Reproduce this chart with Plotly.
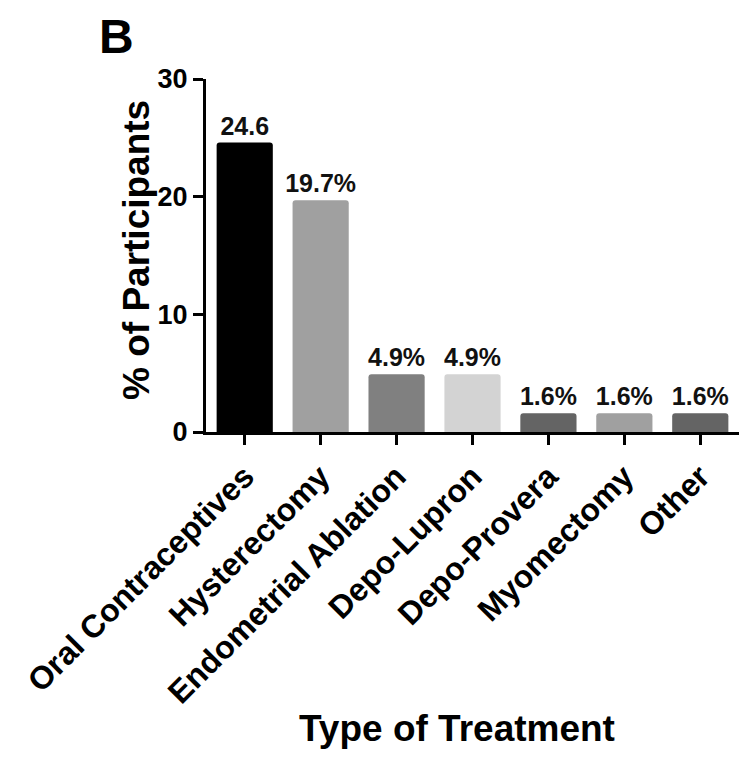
import plotly.graph_objects as go

# Treatment categories and share of participants (%)
treatments = ["Oral Contraceptives", "Hysterectomy", "Endometrial Ablation",
              "Depo-Lupron", "Depo-Provera", "Myomectomy", "Other"]
percent = [24.6, 19.7, 4.9, 4.9, 1.6, 1.6, 1.6]
label_suffix = ["", "%", "%", "%", "%", "%", "%"]
bar_colors = ["#000000", "#a0a0a0", "#808080", "#d3d3d3", "#646464", "#a0a0a0", "#646464"]
y_ticks = [0, 10, 20, 30]

FONT = "Liberation Sans, Arial, sans-serif"

W, H = 739, 759
left, right, top, bottom = 206, 0, 79, 327
plot_w = W - left - right
plot_h = H - top - bottom

fig = go.Figure(go.Bar(
    x=treatments,
    y=percent,
    marker=dict(color=bar_colors, line=dict(width=0), cornerradius=3),
    width=0.74,
    text=[f"{v}{s}" for v, s in zip(percent, label_suffix)],
    textposition="outside",
    constraintext="none",
    textfont=dict(family=FONT, size=25, color="#111111", weight="bold"),
    cliponaxis=False,
))

fig.update_layout(
    width=W, height=H,
    margin=dict(l=left, r=right, t=top, b=bottom, pad=0),
    plot_bgcolor="white", paper_bgcolor="white",
    showlegend=False,
    font=dict(family=FONT, color="black"),
)

fig.update_xaxes(
    range=[-0.51, 6.51],
    showline=True, linewidth=3, linecolor="black",
    ticks="outside", ticklen=10, tickwidth=3, tickcolor="black",
    tickangle=-45,
    tickfont=dict(family=FONT, size=32, color="black", weight="bold"),
    showgrid=False, zeroline=False,
)

fig.update_yaxes(
    range=[0, 30],
    tickvals=y_ticks,
    showline=True, linewidth=3, linecolor="black",
    ticks="outside", ticklen=10, tickwidth=3, tickcolor="black",
    tickfont=dict(family=FONT, size=27, color="black", weight="bold"),
    showgrid=False, zeroline=False,
)

# Axis titles and panel letter placed as annotations
fig.add_annotation(
    text="% of Participants", textangle=-90,
    xref="paper", yref="paper",
    x=(136 - left) / plot_w, y=(432 - 250) / plot_h,
    showarrow=False, xanchor="center", yanchor="middle",
    font=dict(family=FONT, size=37, color="black", weight="bold"),
)
fig.add_annotation(
    text="Type of Treatment",
    xref="paper", yref="paper",
    x=(457 - left) / plot_w, y=(432 - 728) / plot_h,
    showarrow=False, xanchor="center", yanchor="middle",
    font=dict(family=FONT, size=37, color="black", weight="bold"),
)
fig.add_annotation(
    text="B",
    xref="paper", yref="paper",
    x=(116 - left) / plot_w, y=(432 - 37) / plot_h,
    showarrow=False, xanchor="center", yanchor="middle",
    font=dict(family=FONT, size=48, color="black", weight="bold"),
)

fig.write_html("out.html")
